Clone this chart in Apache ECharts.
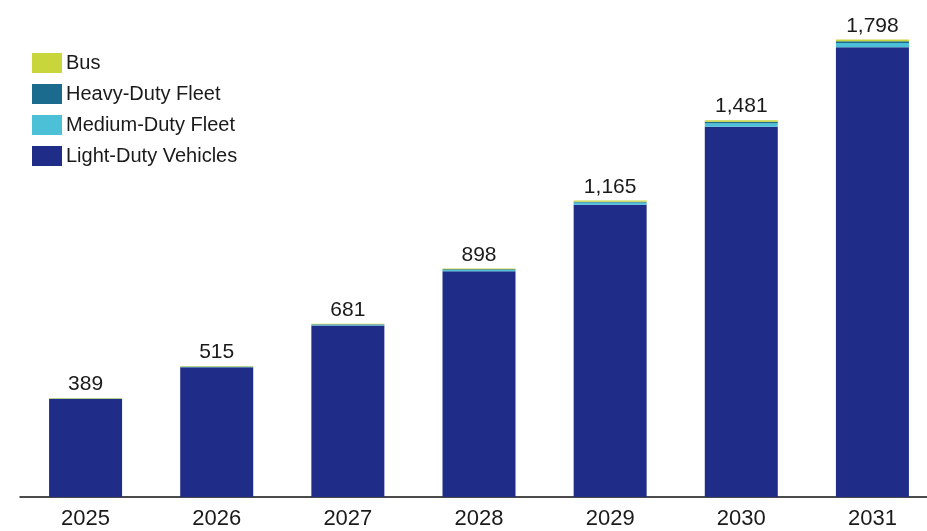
<!DOCTYPE html>
<html>
<head>
<meta charset="utf-8">
<script src="https://cdn.jsdelivr.net/npm/echarts@6/dist/echarts.min.js"></script>
<style>
  html, body { margin: 0; padding: 0; background: #ffffff; overflow: hidden; width: 927px; height: 531px; }
  /* the canvas runs a little past the right edge so the last column sits close to the border */
  #chart { width: 938px; height: 531px; }
</style>
</head>
<body>
<div id="chart"></div>
<script>
// Years on the category axis
const years = ['2025', '2026', '2027', '2028', '2029', '2030', '2031'];

// Stacked segments per vehicle class
const lightDuty  = [385, 510, 674, 887, 1149, 1455, 1768];
const mediumDuty = [1, 2, 3, 5, 8, 14, 16];
const heavyDuty  = [1, 1, 2, 3, 3, 6, 7];
const bus        = [2, 2, 2, 3, 5, 6, 7];

// Totals printed above each column
const totals = [389, 515, 681, 898, 1165, 1481, 1798];

const fontFamily = '"Liberation Sans", Arial, sans-serif';

const chart = echarts.init(document.getElementById('chart'));

function seg(name, values, color, withLabel) {
  const s = {
    name: name,
    type: 'bar',
    stack: 'total',
    data: values,
    barWidth: 73,
    itemStyle: { color: color },
    emphasis: { disabled: true }
  };
  if (withLabel) {
    s.label = {
      show: true,
      position: 'top',
      distance: 3,
      fontFamily: fontFamily,
      fontSize: 21,
      color: '#1a1a1a',
      formatter: p => totals[p.dataIndex].toLocaleString('en-US')
    };
  }
  return s;
}

chart.setOption({
  animation: false,
  backgroundColor: '#ffffff',
  textStyle: { fontFamily: fontFamily },
  grid: { left: 20, top: 39, right: 0, bottom: 34, containLabel: false },
  legend: {
    orient: 'vertical',
    left: 27,
    top: 48,
    itemWidth: 30,
    itemHeight: 20,
    itemGap: 11,
    icon: 'rect',
    textStyle: { fontFamily: fontFamily, fontSize: 20, color: '#1a1a1a', padding: [0, 0, 0, -1] },
    data: ['Bus', 'Heavy-Duty Fleet', 'Medium-Duty Fleet', 'Light-Duty Vehicles']
  },
  xAxis: {
    type: 'category',
    data: years,
    axisLine: { show: true, lineStyle: { color: '#111111', width: 1.5 } },
    axisTick: { show: false },
    axisLabel: {
      fontFamily: fontFamily,
      fontSize: 22,
      color: '#1a1a1a',
      margin: 11
    }
  },
  yAxis: {
    type: 'value',
    min: 0,
    max: 1800,
    show: false,
    splitLine: { show: false }
  },
  series: [
    seg('Light-Duty Vehicles', lightDuty, '#1f2d88', false),
    seg('Medium-Duty Fleet', mediumDuty, '#4cc0d6', false),
    seg('Heavy-Duty Fleet', heavyDuty, '#1a6b8e', false),
    seg('Bus', bus, '#c8d63c', true)
  ]
});
</script>
</body>
</html>
